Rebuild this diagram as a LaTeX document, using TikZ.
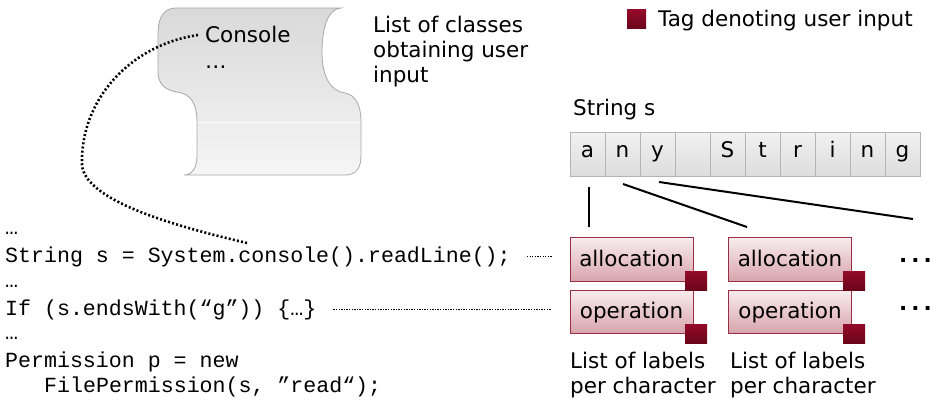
\documentclass[tikz,border=0pt]{standalone}
\usepackage{fontspec}
\setmainfont{DejaVu Sans}
\setmonofont{Liberation Mono}
\definecolor{tagred}{HTML}{930A28}
\definecolor{tagdark}{HTML}{6A0519}
\definecolor{boxtop}{HTML}{F8ECEE}
\definecolor{boxbot}{HTML}{D8A4AC}
\definecolor{boxline}{HTML}{9A2E44}
\definecolor{celltop}{HTML}{F2F2F2}
\definecolor{cellbot}{HTML}{DCDCDC}
\definecolor{cellline}{HTML}{B4B4B4}
\definecolor{scrolltop}{HTML}{D9D9D9}
\definecolor{scrollbot}{HTML}{F6F6F6}
\definecolor{scrollline}{HTML}{A8A8A8}
\begin{document}
\begin{tikzpicture}[x=1pt,y=-1pt,
  font=\fontsize{21.5}{25}\selectfont,
  txt/.style={inner sep=0, anchor=base west},
  multi/.style={inner sep=0, anchor=north west, align=left},
  code/.style={inner sep=0, anchor=base west, font=\fontsize{21.6}{25}\ttfamily},
  cell/.style={draw=cellline, top color=celltop, bottom color=cellbot,
    minimum width=35pt, minimum height=44pt, inner sep=0,
    text height=14pt, text depth=7.5pt},
  labelbox/.style={draw=boxline, line width=0.8pt, top color=boxtop, bottom color=boxbot,
    minimum width=123pt, inner sep=0, text height=17pt, text depth=4pt},
  tag/.style={top color=tagred, bottom color=tagdark, inner sep=0,
    minimum width=22pt, minimum height=19pt},
  link/.style={line width=2pt},
  tracer/.style={line width=2.6pt, dash pattern=on 2pt off 2.2pt},
  finedot/.style={line width=1.4pt, dash pattern=on 1.3pt off 1.3pt},
  more/.style={inner sep=0, anchor=base west, font=\fontsize{21.5}{25}\selectfont\bfseries}]

\useasboundingbox (0,0) rectangle (936,404);

% scroll holding the list of input classes
\path[draw=scrollline, line width=0.8pt, top color=scrolltop, bottom color=scrollbot]
  (176,8) -- (341,8)
  .. controls (327,9) and (322,30) .. (322,52)
  .. controls (322,76) and (330,91) .. (345,93)
  .. controls (356,95) and (361,106) .. (361,122)
  -- (361,156)
  .. controls (361,168) and (356,175) .. (345,175)
  -- (184,175)
  .. controls (192,175) and (197,168) .. (197,156)
  -- (197,123)
  .. controls (197,103) and (191,94) .. (177,92)
  .. controls (165,90) and (158,84) .. (158,72)
  -- (158,34)
  .. controls (158,17) and (164,8) .. (176,8) -- cycle;
\draw[white, line width=1pt] (198,122) -- (360,122);
\node[txt] (console) at (205,43) {Console};
\node[txt] (consdots) at (205,68) {…};
\node[multi] (classes) at (373,16) {List of classes\\obtaining user\\input};

% legend
\node[tag, minimum width=19pt, minimum height=19pt] (legtag) at (636.5,19.5) {};
\node[txt] (legend) at (658,27) {Tag denoting user input};

% the string and its characters
\node[txt] (strname) at (573,115) {String s};
\foreach \ch [count=\i] in {a,n,y,{},S,t,r,i,n,g}
  \node[cell] (c\i) at ({570+35*(\i-0.5)},154) {\ch};

% label lists
\node[labelbox, minimum height=44pt] (a1) at (631.5,259.5) {allocation};
\node[labelbox, minimum height=43pt] (o1) at (631.5,311.5) {operation};
\node[labelbox, minimum height=44pt] (a2) at (790,259.5) {allocation};
\node[labelbox, minimum height=43pt] (o2) at (790,311.5) {operation};
\node[tag] (ta1) at (696,281) {};
\node[tag] (to1) at (696,333.5) {};
\node[tag] (ta2) at (854,281) {};
\node[tag] (to2) at (854,333.5) {};
\node[more] (morea) at (899,262) {.\hspace{4pt}.\hspace{4pt}.};
\node[more] (moreo) at (899,310) {.\hspace{4pt}.\hspace{4pt}.};
\node[multi] (cap1) at (570,352) {List of labels\\per character};
\node[multi] (cap2) at (730,352) {List of labels\\per character};

% links from characters to their label lists
\coordinate (s1) at (589,187);
\coordinate (e1) at (589,227);
\coordinate (s2) at (623,184);
\coordinate (e2) at (747,227);
\coordinate (s3) at (659,182);
\coordinate (e3) at (913,219);
\draw[link] (s1) -- (e1);
\draw[link] (s2) -- (e2);
\draw[link] (s3) -- (e3);

% code fragment
\node[code] (d1) at (5,234) {…};
\node[code] (code1) at (5,262) {String s = System.console().readLine();};
\node[code] (d2) at (5,287) {…};
\node[code] (code2) at (5,315) {If (s.endsWith(“g”)) \{…\}};
\node[code] (d3) at (5,339) {…};
\node[code] (code3) at (5,367) {Permission p = new};
\node[code] (code4) at (44,392) {FilePermission(s, ”read“);};

% dotted tracers
\coordinate (callsite) at (247,243);
\draw[tracer] ([xshift=-7pt]console.west) .. controls (130,45) and (80,100) .. (82,165)
  .. controls (85,200) and (170,225) .. (callsite);
\draw[finedot] ([xshift=16pt]code1.east) -- ([xshift=-18pt]code1.east -| a1.west);
\draw[finedot] ([xshift=17pt]code2.east) -- ([xshift=-18pt]code2.east -| o1.west);

\end{tikzpicture}
\end{document}
